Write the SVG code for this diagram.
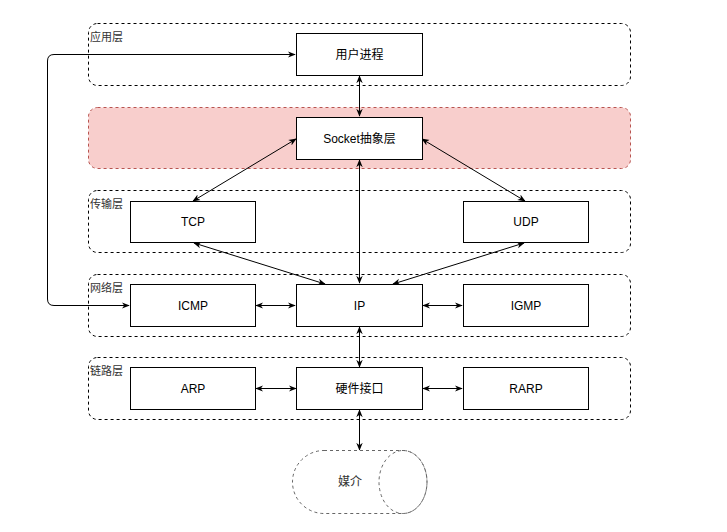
<svg xmlns="http://www.w3.org/2000/svg" width="727" height="532" viewBox="0 0 727 532">
<style>
.layer{fill:none;stroke:#000;stroke-width:1;stroke-dasharray:3 3}
.pink{fill:#f8cecc;stroke:#b85450;stroke-width:1;stroke-dasharray:3 3}
.box{fill:#fff;stroke:#000;stroke-width:1}
.t{font-family:"Liberation Sans","Noto Sans CJK SC",sans-serif;font-size:12px;fill:#000;text-anchor:middle;dominant-baseline:central}
.lt{font-family:"Liberation Sans","Noto Sans CJK SC",sans-serif;font-size:11px;fill:#333}
.c{fill:none;stroke:#000;stroke-width:1;marker-start:url(#a);marker-end:url(#a)}
.med{fill:#fff;stroke:#666;stroke-width:1;stroke-dasharray:3 3}
</style>
<defs>
<marker id="a" viewBox="0 0 10 10" refX="9" refY="5" markerWidth="8" markerHeight="8" orient="auto-start-reverse" markerUnits="userSpaceOnUse">
<path d="M0,1 L10,5 L0,9 L3,5 Z" fill="#000"/>
</marker>
</defs>
<rect x="0" y="0" width="727" height="532" fill="#fff"/>
<g id="layer-app"><rect class="layer" x="88.5" y="23.5" width="542" height="62" rx="9"/><text class="lt" x="90" y="41">应用层</text></g>
<g id="layer-socket"><rect class="pink" x="88.5" y="107.5" width="542" height="61" rx="9"/></g>
<g id="layer-transport"><rect class="layer" x="88.5" y="190.5" width="542" height="62" rx="9"/><text class="lt" x="90" y="208">传输层</text></g>
<g id="layer-network"><rect class="layer" x="88.5" y="274.5" width="542" height="62" rx="9"/><text class="lt" x="90" y="292">网络层</text></g>
<g id="layer-link"><rect class="layer" x="88.5" y="357.5" width="542" height="62" rx="9"/><text class="lt" x="90" y="375">链路层</text></g>

<g id="connectors">
<path class="c" d="M359.5,76 L359.5,116"/>
<path class="c" d="M296,139 L193,201"/>
<path class="c" d="M422,139 L525,201"/>
<path class="c" d="M359.5,160 L359.5,283"/>
<path class="c" d="M194,243 L325,284"/>
<path class="c" d="M524,243 L393,284"/>
<path class="c" d="M256,305.5 L295,305.5"/>
<path class="c" d="M423,305.5 L462,305.5"/>
<path class="c" d="M359.5,327 L359.5,367"/>
<path class="c" d="M256,388.5 L296,388.5"/>
<path class="c" d="M423,388.5 L462,388.5"/>
<path class="c" d="M359.5,410 L359.5,450"/>
<path class="c" d="M129,305.5 L54,305.5 Q47.5,305.5 47.5,299 L47.5,61 Q47.5,54.5 54,54.5 L295,54.5"/>
</g>

<g id="user-process"><rect class="box" x="296.5" y="33.5" width="126" height="42"/><text class="t" x="359.5" y="54.5">用户进程</text></g>
<g id="socket"><rect class="box" x="296.5" y="117.5" width="126" height="42"/><text class="t" x="359.5" y="138.5">Socket抽象层</text></g>
<g id="tcp"><rect class="box" x="130.5" y="201.5" width="125" height="41"/><text class="t" x="193" y="222">TCP</text></g>
<g id="udp"><rect class="box" x="463.5" y="201.5" width="125" height="41"/><text class="t" x="526" y="222">UDP</text></g>
<g id="icmp"><rect class="box" x="130.5" y="284.5" width="125" height="42"/><text class="t" x="193" y="305.5">ICMP</text></g>
<g id="ip"><rect class="box" x="296.5" y="284.5" width="126" height="42"/><text class="t" x="359.5" y="305.5">IP</text></g>
<g id="igmp"><rect class="box" x="463.5" y="284.5" width="125" height="42"/><text class="t" x="526" y="305.5">IGMP</text></g>
<g id="arp"><rect class="box" x="130.5" y="367.5" width="125" height="42"/><text class="t" x="193" y="388.5">ARP</text></g>
<g id="hw"><rect class="box" x="296.5" y="367.5" width="126" height="42"/><text class="t" x="359.5" y="388.5">硬件接口</text></g>
<g id="rarp"><rect class="box" x="463.5" y="367.5" width="125" height="42"/><text class="t" x="526" y="388.5">RARP</text></g>
<g id="media">
<path class="med" d="M324,450.5 L403,450.5 A24,31.5 0 0 1 403,513.5 L324,513.5 A31.5,31.5 0 0 1 324,450.5 Z"/>
<ellipse class="med" fill="none" cx="403" cy="482" rx="24" ry="31.5" style="fill:none"/>
<text class="t" x="350" y="482" style="fill:#333">媒介</text>
</g>
</svg>
